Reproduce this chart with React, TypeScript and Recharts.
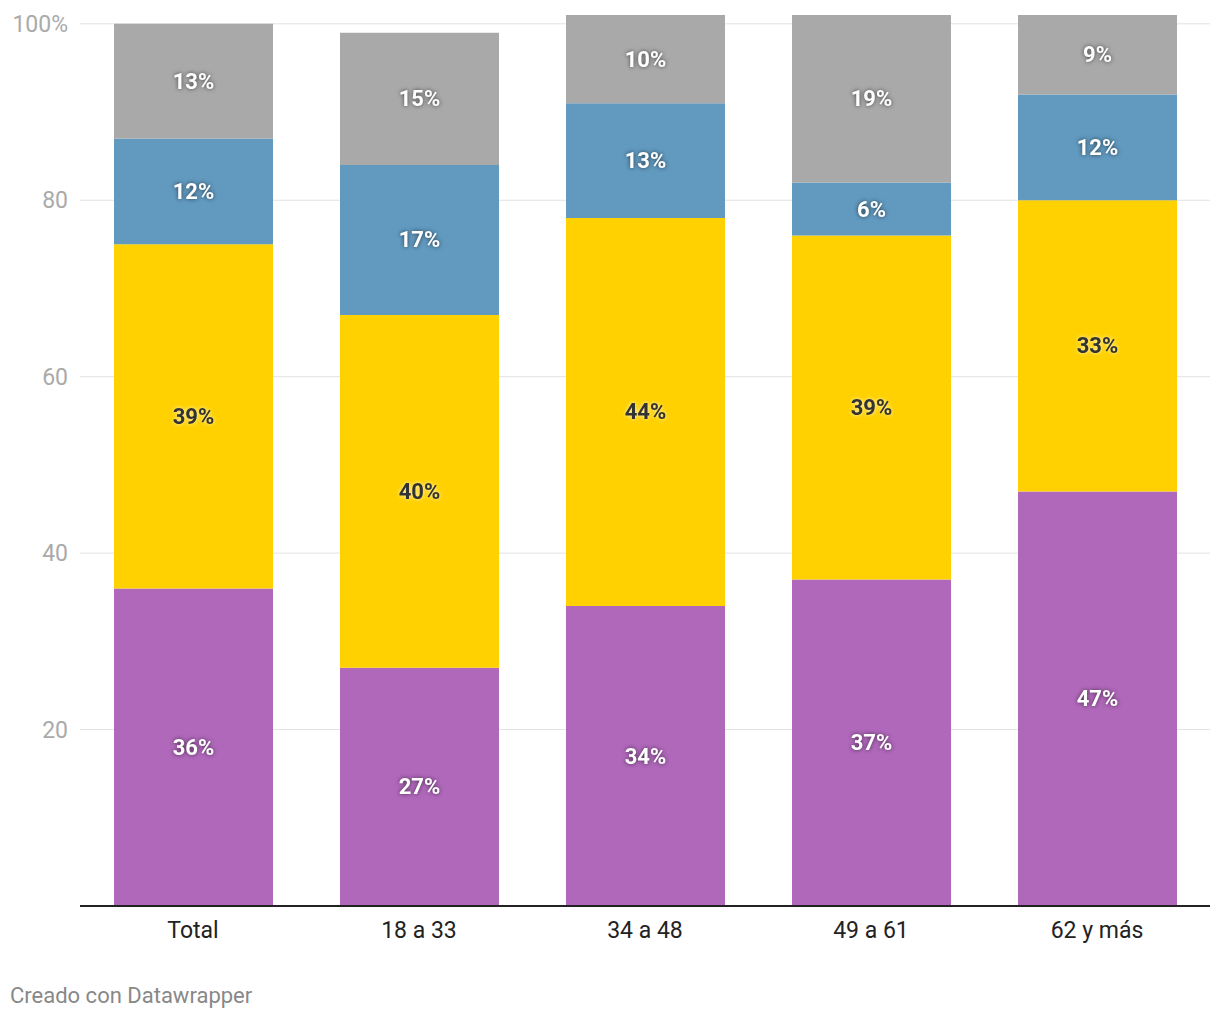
import { BarChart, Bar, XAxis, YAxis, CartesianGrid, LabelList } from "recharts"

const CATEGORIES = ["Total", "18 a 33", "34 a 48", "49 a 61", "62 y más"]
const SERIES_A = [36, 27, 34, 37, 47]
const SERIES_B = [39, 40, 44, 39, 33]
const SERIES_C = [12, 17, 13, 6, 12]
const SERIES_D = [13, 15, 10, 19, 9]
const Y_TICKS = [20, 40, 60, 80, 100]

const COLORS = {
  a: "#b068ba",
  b: "#ffd100",
  c: "#6199bf",
  d: "#a9a9a9",
}

const data = CATEGORIES.map((name, i) => ({
  name,
  a: SERIES_A[i],
  b: SERIES_B[i],
  c: SERIES_C[i],
  d: SERIES_D[i],
}))

const FONT = "Roboto, 'Noto Sans', sans-serif"

// value label in the middle of a segment
function makeLabel(dark: boolean) {
  return (props: any) => {
    const { x, y, width, height, value } = props
    return (
      <text
        x={x + width / 2}
        y={y + height / 2}
        textAnchor="middle"
        dominantBaseline="central"
        fontFamily={FONT}
        fontWeight={700}
        fontSize={22}
        fill={dark ? "#333333" : "#ffffff"}
        style={{
          filter: dark
            ? "drop-shadow(0 0 2px rgba(255,255,255,0.8))"
            : "drop-shadow(0 0 2px rgba(0,0,0,0.6))",
        }}
      >
        {value}%
      </text>
    )
  }
}

export default function App() {
  return (
    <div style={{ position: "absolute", left: 0, top: 0, width: 1220, height: 1020, background: "#fff" }}>
      <BarChart
        width={1220}
        height={946}
        data={data}
        margin={{ top: 15, right: 10, bottom: 0, left: 0 }}
        barSize={159}
      >
        <CartesianGrid vertical={false} horizontalValues={Y_TICKS} stroke="#e2e2e2" strokeWidth={1} />
        <XAxis
          dataKey="name"
          height={40}
          axisLine={{ stroke: "#222", strokeWidth: 2 }}
          tickLine={false}
          tickSize={0}
          tickMargin={16}
          tick={{ fill: "#222", fontSize: 23, fontFamily: FONT }}
        />
        <YAxis
          width={80}
          domain={[0, 101]}
          ticks={Y_TICKS}
          axisLine={false}
          tickLine={false}
          tickSize={0}
          tickMargin={12}
          tickFormatter={(v: number) => (v === 100 ? "100%" : String(v))}
          tick={{ fill: "#aaaaaa", fontSize: 23, fontFamily: FONT }}
        />
        <Bar dataKey="a" stackId="s" fill={COLORS.a} isAnimationActive={false}>
          <LabelList dataKey="a" content={makeLabel(false)} />
        </Bar>
        <Bar dataKey="b" stackId="s" fill={COLORS.b} isAnimationActive={false}>
          <LabelList dataKey="b" content={makeLabel(true)} />
        </Bar>
        <Bar dataKey="c" stackId="s" fill={COLORS.c} isAnimationActive={false}>
          <LabelList dataKey="c" content={makeLabel(false)} />
        </Bar>
        <Bar dataKey="d" stackId="s" fill={COLORS.d} isAnimationActive={false}>
          <LabelList dataKey="d" content={makeLabel(false)} />
        </Bar>
      </BarChart>
      <div
        style={{
          position: "absolute",
          left: 10,
          top: 983,
          fontFamily: FONT,
          fontSize: 22,
          lineHeight: "26px",
          color: "#888",
        }}
      >
        Creado con Datawrapper
      </div>
    </div>
  )
}
